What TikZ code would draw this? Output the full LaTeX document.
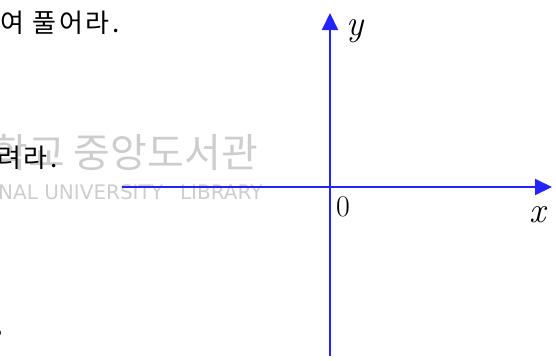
\documentclass[tikz,border=0pt]{standalone}
\usepackage{fontspec}
\newfontfamily\kr[LetterSpace=10]{Noto Sans CJK KR}
\newfontfamily\krw{Noto Sans CJK KR}
\newfontfamily\wmsans{DejaVu Sans}
\usetikzlibrary{arrows.meta}
\definecolor{axisblue}{RGB}{35,35,250}
\definecolor{wmgray}{RGB}{205,205,205}
\tikzset{
  axis/.style={draw=axisblue, line width=2pt, -{Triangle[length=17pt,width=16pt]}},
  krtext/.style={inner sep=0pt, font=\kr\fontsize{26}{28}\selectfont, text=black},
  wmark/.style={inner sep=0pt, text=wmgray},
  axlabel/.style={inner sep=0pt, text=black},
}
\begin{document}
\begin{tikzpicture}[x=1pt,y=-1pt]
\useasboundingbox (0,0) rectangle (556,360);
\clip (0,0) rectangle (556,360);
% watermark
\node[wmark, anchor=base east, font=\krw\fontsize{40}{44}\selectfont] (wm1) at (258,167) {학교 중앙도서관};
\node[wmark, anchor=base west, font=\wmsans\fontsize{20}{22}\selectfont] (wm2) at (-2,199) {NAL UNIVERSITY\hspace{17pt}LIBRARY};
% text fragments
\node[krtext, anchor=base west] (t1) at (0,32) {여 풀어라.};
\node[krtext, anchor=base west] (t2) at (-3,167) {려라.};
\node[inner sep=0pt, font=\krw\fontsize{12}{14}\selectfont, anchor=center] (t3) at (-2,333) {o};
% axes
\coordinate (xs) at (122,187);
\coordinate (xe) at (552,187);
\coordinate (ys) at (330,356);
\coordinate (ye) at (330,13);
\draw[axis] (xs) -- (xe);
\draw[axis] (ys) -- (ye);
\node[axlabel, anchor=base west, font=\fontsize{30}{34}\selectfont] (zero) at (336,216) {0};
\node[axlabel, anchor=base west, font=\fontsize{36}{40}\selectfont] (xl) at (529,222) {\textit{x}};
\node[axlabel, anchor=base west, font=\fontsize{36}{40}\selectfont] (yl) at (346,35) {\textit{y}};
\end{tikzpicture}
\end{document}
